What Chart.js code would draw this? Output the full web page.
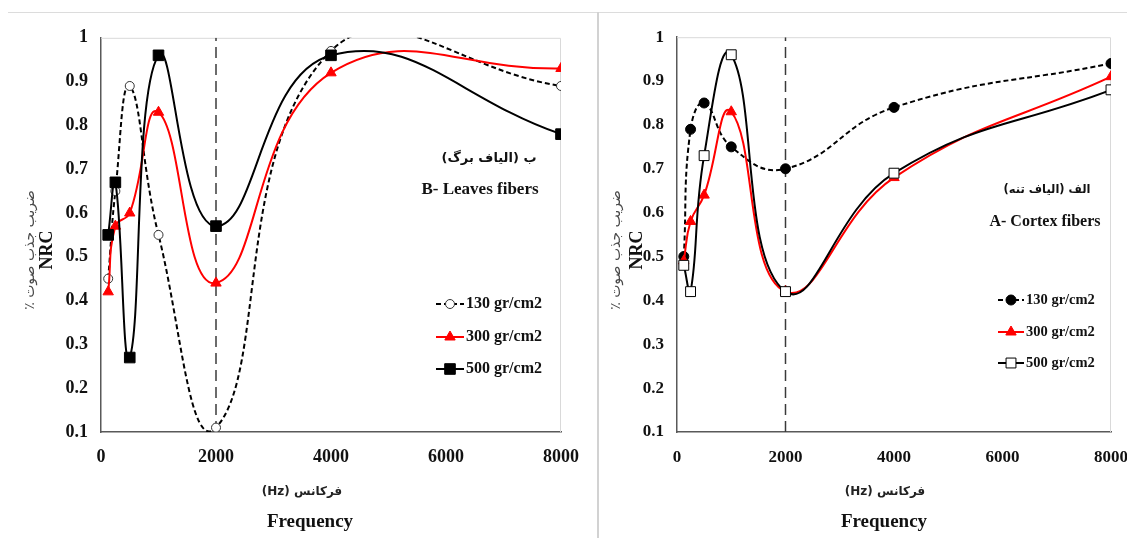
<!DOCTYPE html>
<html>
<head>
<meta charset="utf-8">
<script src="https://cdn.jsdelivr.net/npm/chart.js@4.4.1/dist/chart.umd.min.js"></script>
<style>
  body { margin: 0; background: #fff; width: 1127px; height: 538px; overflow: hidden; position: relative; }
  .frame-top { position: absolute; left: 8px; right: 0; top: 12px; border-top: 1.5px solid #dcdcdc; }
  .sep { position: absolute; left: 597px; top: 12px; bottom: 0; border-left: 2px solid #d2d2d2; }
  .panel { position: absolute; top: 14px; height: 524px; }
  #left { left: 0; width: 596px; }
  #right { left: 601px; width: 526px; }
</style>
</head>
<body>
<div class="frame-top"></div>
<div class="sep"></div>
<div class="panel" id="left"><canvas id="leavesChart"></canvas></div>
<div class="panel" id="right"><canvas id="cortexChart"></canvas></div>

<script>
// frequenze (Hz)
const frequencies = [125, 250, 500, 1000, 2000, 4000, 8000];
const seriesLabels = ["130 gr/cm2", "300 gr/cm2", "500 gr/cm2"];

// B- Leaves fibers
const leaves130 = [0.45, 0.65, 0.89, 0.55, 0.11, 0.97, 0.89];
const leaves300 = [0.42, 0.57, 0.60, 0.83, 0.44, 0.92, 0.93];
const leaves500 = [0.55, 0.67, 0.27, 0.96, 0.57, 0.96, 0.78];

// A- Cortex fibers
const cortex130 = [0.50, 0.79, 0.85, 0.75, 0.70, 0.84, 0.94];
const cortex300 = [0.49, 0.58, 0.64, 0.83, 0.42, 0.68, 0.91];
const cortex500 = [0.48, 0.42, 0.73, 0.96, 0.42, 0.69, 0.88];

// assi
const xTicks = [0, 2000, 4000, 6000, 8000];
const yTicks = [0.1, 0.2, 0.3, 0.4, 0.5, 0.6, 0.7, 0.8, 0.9, 1];
const markerFreq = 2000; // linea verticale tratteggiata

const SERIF = "'Liberation Serif', 'Times New Roman', 'DejaVu Serif', serif";
const ARABIC = "'DejaVu Sans', 'Noto Sans', sans-serif";

function toPoints(values) {
  return values.map((v, i) => ({ x: frequencies[i], y: v }));
}

// disegna un marker come quelli del grafico
function drawMarker(ctx, ds, x, y) {
  const r = ds.pointRadius;
  ctx.save();
  ctx.setLineDash([]);
  ctx.fillStyle = ds.pointBackgroundColor;
  ctx.strokeStyle = ds.pointBorderColor;
  ctx.lineWidth = ds.pointBorderWidth;
  ctx.beginPath();
  if (ds.pointStyle === "circle") {
    ctx.arc(x, y, r, 0, Math.PI * 2);
  } else if (ds.pointStyle === "triangle") {
    ctx.moveTo(x, y - r);
    ctx.lineTo(x + r * 0.866, y + r * 0.5);
    ctx.lineTo(x - r * 0.866, y + r * 0.5);
    ctx.closePath();
  } else {
    const s = r * Math.SQRT1_2;
    ctx.rect(x - s, y - s, 2 * s, 2 * s);
  }
  ctx.fill();
  ctx.stroke();
  ctx.restore();
}

// testi extra, cornice e legenda dentro l'area del grafico
const panelDecor = {
  id: "panelDecor",
  beforeDatasetsDraw(chart) {
    const { ctx, chartArea: a } = chart;
    ctx.save();
    ctx.strokeStyle = "#d9d9d9";
    ctx.lineWidth = 1;
    ctx.beginPath();
    ctx.moveTo(a.left, a.top + 0.5);
    ctx.lineTo(a.right - 0.5, a.top + 0.5);
    ctx.lineTo(a.right - 0.5, a.bottom);
    ctx.stroke();
    ctx.restore();
  },
  afterDraw(chart, args, opts) {
    const ctx = chart.ctx;
    ctx.save();
    ctx.textAlign = "center";
    ctx.textBaseline = "middle";

    // titolo asse y (due righe)
    ctx.save();
    ctx.translate(opts.yFaX, opts.yTitleY);
    ctx.rotate(-Math.PI / 2);
    ctx.direction = "rtl";
    ctx.font = "14px " + ARABIC;
    ctx.fillStyle = "#4a4a4a";
    ctx.fillText("ضریب جذب صوت ٪", 0, 0);
    ctx.restore();
    ctx.save();
    ctx.translate(opts.yNrcX, opts.yTitleY);
    ctx.rotate(-Math.PI / 2);
    ctx.font = "bold 18px " + SERIF;
    ctx.fillStyle = "#111";
    ctx.fillText("NRC", 0, 0);
    ctx.restore();

    // titolo asse x (due righe)
    ctx.fillStyle = "#222";
    ctx.font = "bold 12px " + ARABIC;
    ctx.fillText("(Hz) فرکانس", opts.xFaX, opts.xFaY);
    ctx.fillStyle = "#111";
    ctx.font = "bold 19px " + SERIF;
    ctx.fillText("Frequency", opts.freqX, opts.freqY);

    // nome del pannello
    ctx.direction = "rtl";
    ctx.font = "bold " + opts.nameFaSize + "px " + ARABIC;
    ctx.fillText(opts.nameFa, opts.nameFaX, opts.nameFaY);
    ctx.direction = "ltr";
    ctx.font = "bold " + opts.nameEnSize + "px " + SERIF;
    ctx.fillText(opts.nameEn, opts.nameEnX, opts.nameEnY);

    // legenda
    ctx.textAlign = "left";
    seriesLabels.forEach((label, i) => {
      const ds = chart.data.datasets[i];
      const y = opts.legendY[i];
      ctx.save();
      ctx.strokeStyle = ds.borderColor;
      ctx.lineWidth = ds.borderWidth;
      ctx.setLineDash(ds.borderDash || []);
      ctx.beginPath();
      ctx.moveTo(opts.legendX0, y);
      ctx.lineTo(opts.legendX1, y);
      ctx.stroke();
      ctx.restore();
      drawMarker(ctx, ds, (opts.legendX0 + opts.legendX1) / 2, y);
      ctx.fillStyle = "#111";
      ctx.font = "bold " + opts.legendSize + "px " + SERIF;
      ctx.fillText(label, opts.legendX1 + 2, y);
    });
    ctx.restore();
  },
};

function makeChart(canvasId, values, styles, yAxisWidth, padRight, tickSize, decor) {
  const datasets = values.map((vals, i) =>
    Object.assign(
      {
        label: seriesLabels[i],
        data: toPoints(vals),
        borderWidth: 2,
        tension: 0.45,
        order: 2 - i,
      },
      styles[i]
    )
  );
  // linea verticale a 2000 Hz
  datasets.push({
    label: "marker",
    data: [
      { x: markerFreq, y: yTicks[0] },
      { x: markerFreq, y: yTicks[yTicks.length - 1] },
    ],
    borderColor: "#3a3a3a",
    borderWidth: 1.5,
    borderDash: [11, 6],
    pointRadius: 0,
    tension: 0,
    order: 5,
  });

  return new Chart(document.getElementById(canvasId), {
    type: "line",
    data: { datasets },
    options: {
      responsive: true,
      maintainAspectRatio: false,
      animation: false,
      events: [],
      layout: { padding: { top: 23, right: padRight, left: 0, bottom: 0 } },
      elements: { line: { capBezierPoints: false } },
      scales: {
        x: {
          type: "linear",
          min: xTicks[0],
          max: xTicks[xTicks.length - 1],
          afterBuildTicks: (s) => { s.ticks = xTicks.map((v) => ({ value: v })); },
          afterFit: (s) => { s.height = 106; s.paddingRight = 12; },
          grid: { display: false, drawTicks: false },
          border: { color: "#595959", width: 1.5 },
          ticks: {
            padding: 15,
            color: "#111",
            font: { family: SERIF, size: tickSize, weight: "bold" },
            callback: (v) => String(v),
          },
        },
        y: {
          min: yTicks[0],
          max: yTicks[yTicks.length - 1],
          afterBuildTicks: (s) => { s.ticks = yTicks.map((v) => ({ value: v })); },
          afterFit: (s) => { s.width = yAxisWidth; },
          grid: { display: false, drawTicks: false },
          border: { color: "#595959", width: 1.5 },
          ticks: {
            padding: 13,
            color: "#111",
            font: { family: SERIF, size: tickSize, weight: "bold" },
            callback: (v) => String(v),
          },
        },
      },
      plugins: {
        legend: { display: false },
        tooltip: { enabled: false },
        panelDecor: decor,
      },
    },
    plugins: [panelDecor],
  });
}

const dashed = { borderColor: "#000", borderDash: [5, 3] };
const red = {
  borderColor: "#ff0000",
  pointStyle: "triangle",
  pointRadius: 6,
  pointBackgroundColor: "#ff0000",
  pointBorderColor: "#ff0000",
  pointBorderWidth: 1,
};

makeChart(
  "leavesChart",
  [leaves130, leaves300, leaves500],
  [
    Object.assign({}, dashed, {
      pointStyle: "circle", pointRadius: 4.5,
      pointBackgroundColor: "#fff", pointBorderColor: "#333", pointBorderWidth: 1,
    }),
    red,
    {
      borderColor: "#000", pointStyle: "rect", pointRadius: 7.5,
      pointBackgroundColor: "#000", pointBorderColor: "#000", pointBorderWidth: 1,
    },
  ],
  101,
  35,
  18,
  {
    yFaX: 30, yNrcX: 47, yTitleY: 236,
    xFaX: 302, xFaY: 478,
    freqX: 310, freqY: 508,
    nameFa: "ب (الیاف برگ)", nameFaX: 489, nameFaY: 145, nameFaSize: 13,
    nameEn: "B- Leaves fibers", nameEnX: 480, nameEnY: 176, nameEnSize: 17,
    legendX0: 436, legendX1: 464, legendY: [290, 323, 355], legendSize: 16,
  }
);

makeChart(
  "cortexChart",
  [cortex130, cortex300, cortex500],
  [
    Object.assign({}, dashed, {
      pointStyle: "circle", pointRadius: 5,
      pointBackgroundColor: "#000", pointBorderColor: "#000", pointBorderWidth: 1,
    }),
    red,
    {
      borderColor: "#000", pointStyle: "rect", pointRadius: 7,
      pointBackgroundColor: "#fff", pointBorderColor: "#000", pointBorderWidth: 1,
    },
  ],
  76,
  16,
  17,
  {
    yFaX: 15, yNrcX: 36, yTitleY: 236,
    xFaX: 284, xFaY: 478,
    freqX: 283, freqY: 508,
    nameFa: "الف (الیاف تنه)", nameFaX: 446, nameFaY: 176, nameFaSize: 11.5,
    nameEn: "A- Cortex fibers", nameEnX: 444, nameEnY: 208, nameEnSize: 16,
    legendX0: 397, legendX1: 423, legendY: [286, 318, 349], legendSize: 14.5,
  }
);
</script>
</body>
</html>
